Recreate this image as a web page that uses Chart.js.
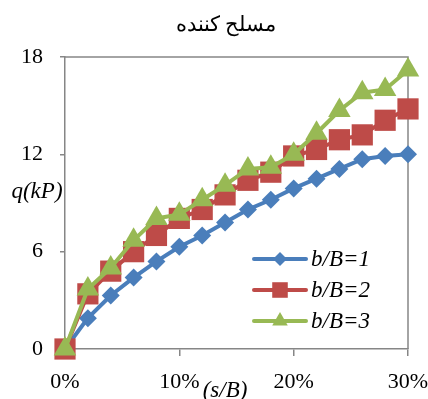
<!DOCTYPE html>
<html>
<head>
<meta charset="utf-8">
<script src="https://cdn.jsdelivr.net/npm/chart.js@4.4.1/dist/chart.umd.min.js"></script>
<style>
  body { margin: 0; background: #fff; }
  #wrap { width: 428px; height: 399px; }
</style>
</head>
<body>
<div id="wrap"><canvas id="chart" width="428" height="399"></canvas></div>
<script>
// values
const chartTitle = 'مسلح کننده';
const xValues = [0, 2, 4, 6, 8, 10, 12, 14, 16, 18, 20, 22, 24, 26, 28, 30]; // s/B in %
const seriesNames = ['b/B=1', 'b/B=2', 'b/B=3'];
const q1 = [0, 1.9, 3.3, 4.4, 5.4, 6.3, 7.0, 7.8, 8.6, 9.2, 9.9, 10.5, 11.1, 11.7, 11.9, 12.0];
const q2 = [0, 3.4, 4.8, 6.0, 7.0, 8.05, 8.6, 9.5, 10.4, 10.9, 11.9, 12.3, 12.9, 13.2, 14.1, 14.8];
const q3 = [0, 3.7, 5.0, 6.7, 8.05, 8.3, 9.2, 10.1, 11.1, 11.2, 12.0, 13.3, 14.7, 15.8, 16.0, 17.2];
const yTicks = [0, 6, 12, 18];
const xTicks = [0, 10, 20, 30];

const colors = ['#4a7ebb', '#be4b48', '#98b954'];
const styles = ['rectRot', 'rect', 'triangle'];
const radii = [9, 15, 13];
const legendRadii = [7, 11, 9];
const serif = '"Liberation Serif", "DejaVu Serif", serif';

function makeSet(name, vals, i) {
  return {
    label: name,
    data: xValues.map((x, k) => ({ x: x, y: vals[k] })),
    borderColor: colors[i],
    backgroundColor: colors[i],
    borderWidth: 4,
    pointStyle: styles[i],
    pointRadius: radii[i],
    pointBorderWidth: 0,
    tension: 0,
    clip: false,
    order: 3 - i
  };
}

// title, axis titles, box and legend
const decor = {
  id: 'decor',
  beforeDatasetsDraw(chart) {
    const { ctx, chartArea: a } = chart;
    ctx.save();
    ctx.strokeStyle = '#868686';
    ctx.lineWidth = 1.5;
    ctx.beginPath();
    ctx.moveTo(a.left, a.top);
    ctx.lineTo(a.right, a.top);
    ctx.lineTo(a.right, a.bottom);
    ctx.stroke();
    ctx.restore();
  },
  afterDatasetsDraw(chart) {
    const { ctx } = chart;
    ctx.save();
    ctx.fillStyle = '#000';
    ctx.textAlign = 'center';
    ctx.textBaseline = 'middle';
    ctx.font = '21px ' + serif;
    ctx.fillText(chartTitle, 226, 25);
    ctx.font = 'italic 23px ' + serif;
    ctx.fillText('q(kP)', 37, 192);
    ctx.fillText('(s/B)', 225, 391);

    // legend inside the plot
    ctx.textAlign = 'left';
    const rows = [259, 290, 321];
    seriesNames.forEach((name, i) => {
      const y = rows[i];
      ctx.strokeStyle = colors[i];
      ctx.lineWidth = 4;
      ctx.lineCap = 'round';
      ctx.beginPath();
      ctx.moveTo(254, y);
      ctx.lineTo(306, y);
      ctx.stroke();
      ctx.fillStyle = colors[i];
      Chart.helpers.drawPoint(ctx, { pointStyle: styles[i], radius: legendRadii[i], rotation: 0, borderWidth: 0 }, 280, y);
      ctx.fillStyle = '#000';
      ctx.fillText(name, 311, y + 1);
    });
    ctx.restore();
  }
};

new Chart(document.getElementById('chart'), {
  type: 'line',
  data: { datasets: [makeSet(seriesNames[0], q1, 0), makeSet(seriesNames[1], q2, 1), makeSet(seriesNames[2], q3, 2)] },
  options: {
    responsive: false,
    animation: false,
    layout: { padding: { top: 57, right: 20, left: 0, bottom: 0 } },
    plugins: { legend: { display: false }, title: { display: false }, tooltip: { enabled: false } },
    scales: {
      x: {
        type: 'linear',
        min: 0, max: 30,
        afterBuildTicks(s) { s.ticks = xTicks.map(v => ({ value: v })); },
        afterFit(s) { s.height = 50; s.paddingLeft = 0; s.paddingRight = 0; },
        ticks: { color: '#000', font: { family: serif, size: 22 }, padding: 13, maxRotation: 0, callback: v => v + '%' },
        grid: { drawOnChartArea: false, drawTicks: true, tickLength: 7, color: '#868686', lineWidth: 1.5 },
        border: { color: '#868686', width: 1.5 }
      },
      y: {
        min: 0, max: 18,
        afterBuildTicks(s) { s.ticks = yTicks.map(v => ({ value: v })); },
        afterFit(s) { s.width = 65; s.paddingTop = 0; s.paddingBottom = 0; },
        ticks: { color: '#000', font: { family: serif, size: 22 }, padding: 17 },
        grid: { drawOnChartArea: false, drawTicks: true, tickLength: 5, color: '#868686', lineWidth: 1.5 },
        border: { color: '#868686', width: 1.5 }
      }
    }
  },
  plugins: [decor]
});
</script>
</body>
</html>
